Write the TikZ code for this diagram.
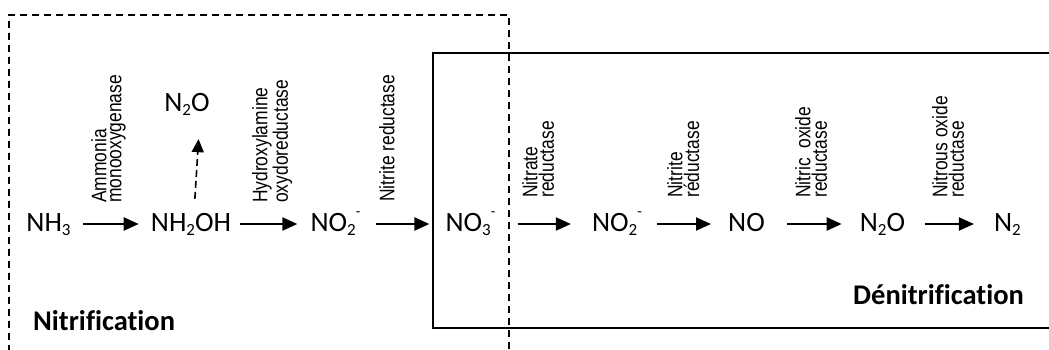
\documentclass[tikz,border=0pt]{standalone}
\usepackage{fontspec}
\setmainfont{Carlito}[Ligatures={NoCommon}]
\newfontfamily\labfont{Liberation Sans}[FakeStretch=0.83]
\usetikzlibrary{arrows.meta}
\newcommand{\chsub}[1]{\raisebox{-4pt}{\fontsize{17}{17}\selectfont #1}}
\newcommand{\chsup}[1]{\raisebox{15pt}{\fontsize{15}{15}\selectfont #1}}
\begin{document}
\begin{tikzpicture}[x=1pt,y=-1pt,
 chem/.style={font=\fontsize{28}{30}\selectfont, inner sep=0pt, text height=18pt, text depth=4pt, anchor=base},
 enz/.style={font=\labfont\fontsize{21}{15}\selectfont, rotate=90, anchor=north west, inner sep=0pt, align=left},
 title/.style={font=\fontsize{28.5}{30}\selectfont\bfseries, inner sep=0pt, anchor=base west},
 rxn/.style={line width=2pt, -{Triangle[length=15pt,width=13pt]}},
 side/.style={line width=1.6pt, dash pattern=on 7pt off 4pt, -{Triangle[length=13pt,width=12pt]}},
 frame/.style={line width=2pt, dash pattern=on 7pt off 5pt},
 box/.style={line width=2.4pt}]
\useasboundingbox (0,0) rectangle (1049,350);
% frames
\draw[box] (1052,53) -- (433,53) -- (433,328) -- (1052,328);
\draw[frame] (9,352) -- (9,15) -- (509,15) -- (509,352);
% species
\node[chem] (nh3) at (48.5,231) {NH\chsub{3}};
\node[chem] (nh2oh) at (191,231) {NH\chsub{2}OH};
\node[chem] (no2a) at (335.5,231) {NO\chsub{2}\chsup{-}};
\node[chem] (no3) at (470.5,231) {NO\chsub{3}\chsup{-}};
\node[chem] (no2b) at (617,231) {NO\chsub{2}\chsup{-}};
\node[chem] (no) at (746.5,231) {NO};
\node[chem] (n2ob) at (882.5,231) {N\chsub{2}O};
\node[chem] (n2) at (1007.5,231) {N\chsub{2}};
\node[chem] (n2oa) at (187,112) {N\chsub{2}O};
% reactions
\draw[rxn, shorten <=12pt, shorten >=12pt] (nh3) -- (nh2oh);
\draw[rxn, shorten <=9pt, shorten >=13pt] (nh2oh) -- (no2a);
\draw[rxn, shorten <=15pt, shorten >=16pt] (no2a) -- (no3);
\draw[rxn, shorten <=22pt, shorten >=21pt] (no3) -- (no2b);
\draw[rxn, shorten <=15pt, shorten >=17pt] (no2b) -- (no);
\draw[rxn, shorten <=22pt, shorten >=18pt] (no) -- (n2ob);
\draw[rxn, shorten <=20pt, shorten >=20pt] (n2ob) -- (n2);
\draw[side, shorten <=14pt, shorten >=23pt] ([xshift=3pt]nh2oh.north) -- ([xshift=13pt]n2oa.south);
% enzymes
\node[enz] (l1) at (91,203) {Ammonia\\monooxygenase};
\node[enz] (l2) at (252,203) {Hydroxylamine\\oxydoreductase};
\node[enz] (l3) at (379,202) {Nitrite reductase};
\node[enz] (l4) at (522,198) {Nitrate\\reductase};
\node[enz] (l5) at (667,198) {Nitrite\\réductase};
\node[enz] (l6) at (795,198) {Nitric\ \ oxide\\reductase};
\node[enz] (l7) at (932,198) {Nitrous oxide\\reductase};
% titles
\node[title] (nit) at (33,330) {Nitrification};
\node[title] (denit) at (853,304) {Dénitrification};
\end{tikzpicture}
\end{document}
